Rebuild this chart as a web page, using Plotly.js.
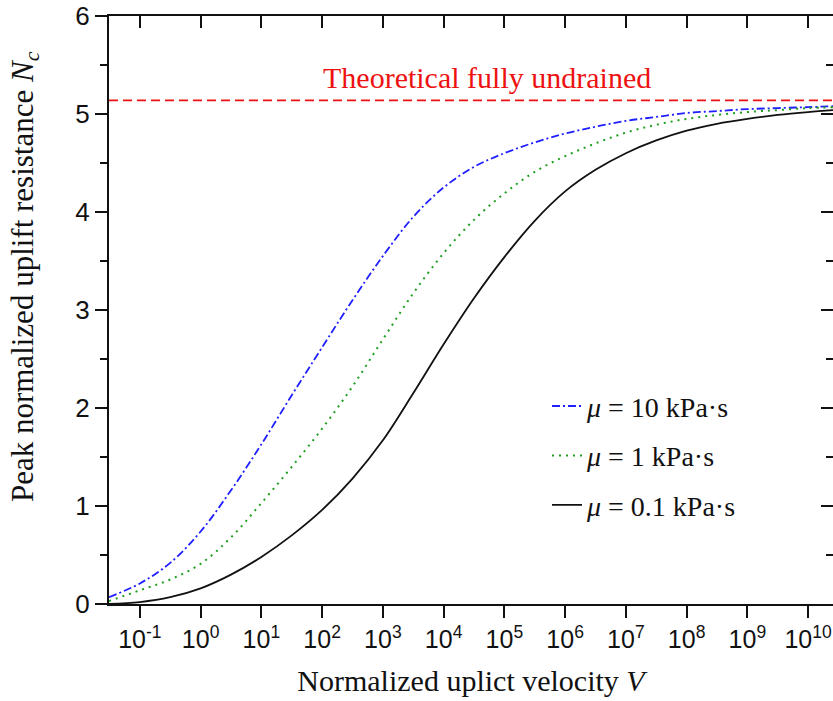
<!DOCTYPE html>
<html><head><meta charset="utf-8">
<script src="https://cdn.plot.ly/plotly-3.0.1.min.js"></script>
<style>html,body{margin:0;padding:0;background:#fff;}#chart{width:833px;height:701px;}</style>
</head><body><div id="chart"></div>
<script>
// Normalized uplift velocity V (read at half-decade steps)
const velocity = [0.031, 0.1, 0.316, 1, 3.16, 10, 31.6, 100, 316, 1000, 3160, 1e4, 3.16e4, 1e5, 3.16e5, 1e6, 3.16e6, 1e7, 3.16e7, 1e8, 3.16e8, 1e9, 3.16e9, 1e10, 2.57e10];
// Peak normalized uplift resistance Nc
const ncMu10  = [0.07, 0.21, 0.42, 0.74, 1.16, 1.63, 2.13, 2.62, 3.10, 3.55, 3.95, 4.25, 4.46, 4.60, 4.71, 4.80, 4.87, 4.93, 4.97, 5.01, 5.03, 5.05, 5.06, 5.07, 5.08];
const ncMu1   = [0.03, 0.14, 0.25, 0.41, 0.68, 1.03, 1.40, 1.79, 2.22, 2.70, 3.17, 3.58, 3.92, 4.19, 4.41, 4.57, 4.70, 4.81, 4.89, 4.95, 4.99, 5.02, 5.04, 5.06, 5.07];
const ncMu01  = [0.0, 0.02, 0.07, 0.16, 0.30, 0.48, 0.70, 0.96, 1.28, 1.67, 2.15, 2.65, 3.12, 3.54, 3.91, 4.21, 4.43, 4.60, 4.73, 4.83, 4.90, 4.95, 4.99, 5.02, 5.04];
const seriesNames = ['<i>μ</i> = 10 kPa·s', '<i>μ</i> = 1 kPa·s', '<i>μ</i> = 0.1 kPa·s'];
const undrainedNc = 5.14;
const undrainedLabel = 'Theoretical fully undrained';
const xTickVals = [0.1, 1, 10, 100, 1e3, 1e4, 1e5, 1e6, 1e7, 1e8, 1e9, 1e10];
const xTickText = ['10<sup>-1</sup>','10<sup>0</sup>','10<sup>1</sup>','10<sup>2</sup>','10<sup>3</sup>','10<sup>4</sup>','10<sup>5</sup>','10<sup>6</sup>','10<sup>7</sup>','10<sup>8</sup>','10<sup>9</sup>','10<sup>10</sup>'];
const yTickVals = [0, 1, 2, 3, 4, 5, 6];
const xLabel = 'Normalized uplict velocity <i>V</i>';
const yLabel = 'Peak normalized uplift resistance <i>N</i><sub><i>c</i></sub>';

const xRange = [Math.log10(velocity[0]), Math.log10(velocity[velocity.length - 1])];
const serif = 'Liberation Serif, Times New Roman, serif';
const sans = 'Liberation Sans, Arial, sans-serif';

const traces = [
  {x: velocity, y: ncMu10, name: seriesNames[0], mode: 'lines', legendgroup: 'a',
   line: {color: '#1f1fff', width: 1.8, dash: '8px,3px,2px,3px', shape: 'spline', smoothing: 1}},
  {x: velocity, y: ncMu1, name: seriesNames[1], mode: 'lines', legendgroup: 'b',
   line: {color: '#1f9f1f', width: 2, dash: '2px,5px', shape: 'spline', smoothing: 1}},
  {x: velocity, y: ncMu01, name: seriesNames[2], mode: 'lines', legendgroup: 'c',
   line: {color: '#111111', width: 1.8, shape: 'spline', smoothing: 1}},
  {x: [velocity[0], velocity[velocity.length - 1]], y: [undrainedNc, undrainedNc], mode: 'lines',
   xaxis: 'x2', yaxis: 'y2', showlegend: false, hoverinfo: 'skip',
   line: {color: '#ee1111', width: 1.8, dash: '9px,5px'}}
];

const layout = {
  width: 833, height: 701,
  margin: {l: 109, r: 0, t: 16, b: 97, autoexpand: false},
  paper_bgcolor: '#fff', plot_bgcolor: '#fff',
  showlegend: true,
  legend: {x: 0.605, y: 0.252, xanchor: 'left', yanchor: 'middle', bgcolor: 'rgba(0,0,0,0)',
           font: {family: serif, size: 28, color: '#111'}, tracegroupgap: 10},
  xaxis: {type: 'log', range: xRange, tickvals: xTickVals, ticktext: xTickText,
          ticks: 'outside', ticklen: 12, tickwidth: 2, tickcolor: '#111',
          showline: true, linewidth: 2, linecolor: '#111', showgrid: false, zeroline: false,
          tickfont: {family: sans, size: 25, color: '#111'},
          title: {text: xLabel, font: {family: serif, size: 30, color: '#111'}, standoff: 18}},
  yaxis: {range: [0, 6], tickvals: yTickVals, ticks: 'outside', ticklen: 12, tickwidth: 2, tickcolor: '#111',
          minor: {dtick: 0.5, ticks: 'outside', ticklen: 7, tickwidth: 2, tickcolor: '#111'},
          showline: true, linewidth: 2, linecolor: '#111', showgrid: false, zeroline: false,
          tickfont: {family: sans, size: 26, color: '#111'}},
  xaxis2: {type: 'log', range: xRange, overlaying: 'x', side: 'top', tickvals: xTickVals,
           showticklabels: false, ticks: 'inside', ticklen: 12, tickwidth: 2, tickcolor: '#111',
           showline: true, linewidth: 2, linecolor: '#111', showgrid: false, zeroline: false},
  yaxis2: {range: [0, 6], overlaying: 'y', side: 'right', tickvals: yTickVals, showticklabels: false,
           ticks: 'inside', ticklen: 12, tickwidth: 2, tickcolor: '#111',
           minor: {dtick: 0.5, ticks: 'inside', ticklen: 7, tickwidth: 2, tickcolor: '#111'},
           showline: false, showgrid: false, zeroline: false},
  annotations: [
    {text: undrainedLabel, xref: 'paper', yref: 'y', x: 0.522, y: 5.37, showarrow: false,
     xanchor: 'center', yanchor: 'middle', font: {family: serif, size: 30, color: '#ee1111'}},
    {text: yLabel, xref: 'paper', yref: 'paper', x: 0, xshift: -84, y: 0.556, textangle: -90,
     showarrow: false, xanchor: 'center', yanchor: 'middle', font: {family: serif, size: 31, color: '#111'}}
  ]
};

Plotly.newPlot('chart', traces, layout, {staticPlot: true, displayModeBar: false});
</script>
</body></html>
